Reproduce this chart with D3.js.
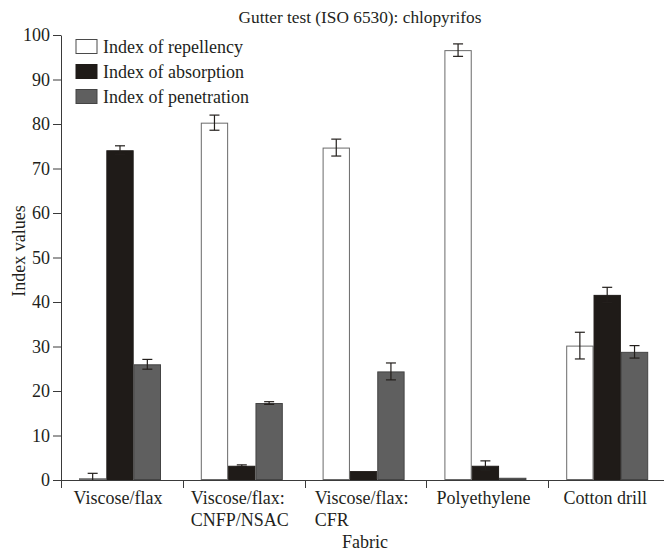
<!DOCTYPE html>
<html>
<head>
<meta charset="utf-8">
<script src="https://cdn.jsdelivr.net/npm/d3@7"></script>
<style>
  body { margin: 0; background: #fff; }
</style>
</head>
<body>
<div id="chart"></div>
<script>
// Data.
var fabrics = [
  ["Viscose/flax"],
  ["Viscose/flax:", "CNFP/NSAC"],
  ["Viscose/flax:", "CFR"],
  ["Polyethylene"],
  ["Cotton drill"]
];
var seriesNames = ["Index of repellency", "Index of absorption", "Index of penetration"];
var repellency = [0.4, 80.3, 74.7, 96.6, 30.2];
var repellencyErr = [1.1, 1.7, 1.9, 1.4, 3.0];
var absorption = [74.1, 3.2, 2.0, 3.2, 41.6];
var absorptionErr = [1.0, 0.2, 0.1, 1.1, 1.7];
var penetration = [26.0, 17.3, 24.4, 0.5, 28.8];
var penetrationErr = [1.1, 0.3, 1.9, 0.1, 1.4];
var yTicks = [0, 10, 20, 30, 40, 50, 60, 70, 80, 90, 100];

var width = 664, height = 556;
var fills = ["#ffffff", "#1f1b18", "#5f5f5f"];
var strokes = ["#6a6a6a", "#1f1b18", "#444444"];
var fontSize = "18px";
var serif = "'Liberation Serif', 'DejaVu Serif', serif";
var textColor = "#231f1c";

var svg = d3.select("#chart").append("svg")
  .attr("width", width)
  .attr("height", height)
  .attr("font-family", serif);

var values = [repellency, absorption, penetration];
var errors = [repellencyErr, absorptionErr, penetrationErr];

var rows = fabrics.map(function(f, i) {
  return {
    id: i,
    label: f,
    bars: seriesNames.map(function(s, j) {
      return { series: s, k: j, value: values[j][i], err: errors[j][i] };
    })
  };
});

var x0 = d3.scaleBand()
  .domain(d3.range(fabrics.length))
  .range([61, 670])
  .padding(0);

var x1 = d3.scaleBand()
  .domain(d3.range(seriesNames.length))
  .range([18, 100])
  .padding(0);

var y = d3.scaleLinear()
  .domain([0, 100])
  .range([480, 35]);

var axisColor = "#3a3a3a";

// bars
var group = svg.append("g").selectAll(".fabric")
  .data(rows)
  .enter()
    .append("g")
    .attr("class", "fabric")
    .attr("transform", d => "translate(" + x0(d.id) + ",0)");

group.selectAll("rect")
  .data(d => d.bars)
  .enter()
    .append("rect")
    .attr("x", d => x1(d.k) + 0.5)
    .attr("y", d => y(d.value) + 0.5)
    .attr("width", x1.bandwidth() - 1)
    .attr("height", d => Math.max(0, y(0) - y(d.value) - 1))
    .attr("fill", d => fills[d.k])
    .attr("stroke", d => strokes[d.k])
    .attr("stroke-width", 1);

// error bars
var capHalf = 5;
var err = group.selectAll(".err")
  .data(d => d.bars.filter(b => b.err > 0.15))
  .enter()
    .append("g")
    .attr("class", "err")
    .attr("stroke", textColor)
    .attr("stroke-width", 1.2);

err.append("line")
  .attr("x1", d => x1(d.k) + x1.bandwidth() / 2)
  .attr("x2", d => x1(d.k) + x1.bandwidth() / 2)
  .attr("y1", d => y(d.value + d.err))
  .attr("y2", d => y(Math.max(0, d.value - d.err)));

err.append("line")
  .attr("x1", d => x1(d.k) + x1.bandwidth() / 2 - capHalf)
  .attr("x2", d => x1(d.k) + x1.bandwidth() / 2 + capHalf)
  .attr("y1", d => y(d.value + d.err))
  .attr("y2", d => y(d.value + d.err));

err.filter(d => d.value - d.err > 0.3).append("line")
  .attr("x1", d => x1(d.k) + x1.bandwidth() / 2 - capHalf)
  .attr("x2", d => x1(d.k) + x1.bandwidth() / 2 + capHalf)
  .attr("y1", d => y(d.value - d.err))
  .attr("y2", d => y(d.value - d.err));

// y axis
var yAxis = svg.append("g")
  .attr("transform", "translate(61,0)")
  .call(d3.axisLeft(y).tickValues(yTicks).tickSize(8).tickPadding(3).tickSizeOuter(0));

yAxis.attr("font-family", serif).attr("font-size", fontSize);
yAxis.select(".domain").attr("stroke", axisColor);
yAxis.selectAll(".tick line").attr("stroke", axisColor);
yAxis.selectAll(".tick text").attr("fill", textColor);

// x axis line and ticks at band edges
var xAxis = svg.append("g");
xAxis.append("line")
  .attr("x1", 61).attr("x2", width)
  .attr("y1", y(0) + 0.5).attr("y2", y(0) + 0.5)
  .attr("stroke", axisColor);

xAxis.selectAll(".xtick")
  .data(d3.range(fabrics.length))
  .enter()
    .append("line")
    .attr("x1", d => Math.round(x0(d)) + 0.5)
    .attr("x2", d => Math.round(x0(d)) + 0.5)
    .attr("y1", y(0))
    .attr("y2", y(0) + 8)
    .attr("stroke", axisColor);

// category labels, lines left aligned, block centred on the bar group
var labels = xAxis.selectAll(".xlabel")
  .data(rows)
  .enter()
    .append("text")
    .attr("class", "xlabel")
    .attr("fill", textColor)
    .attr("font-size", fontSize);

labels.each(function(d) {
  var t = d3.select(this);
  d.label.forEach(function(line, i) {
    t.append("tspan").attr("y", 504 + i * 22).text(line);
  });
  var w = d3.max(t.selectAll("tspan").nodes(), n => n.getComputedTextLength());
  var cx = x0(d.id) + (x1.range()[0] + x1.range()[1]) / 2 - 2;
  t.selectAll("tspan").attr("x", cx - w / 2);
});

// axis titles
svg.append("text")
  .attr("x", 365)
  .attr("y", 548)
  .attr("text-anchor", "middle")
  .attr("fill", textColor)
  .attr("font-size", fontSize)
  .text("Fabric");

svg.append("text")
  .attr("transform", "translate(25,251) rotate(-90)")
  .attr("text-anchor", "middle")
  .attr("fill", textColor)
  .attr("font-size", fontSize)
  .text("Index values");

svg.append("text")
  .attr("x", 360)
  .attr("y", 23)
  .attr("text-anchor", "middle")
  .attr("fill", textColor)
  .attr("font-size", "17.3px")
  .text("Gutter test (ISO 6530): chlopyrifos");

// legend
var legend = svg.append("g").selectAll(".legend")
  .data(seriesNames)
  .enter()
    .append("g")
    .attr("class", "legend")
    .attr("transform", (d, i) => "translate(76," + (39.5 + i * 25) + ")");

legend.append("rect")
  .attr("width", 21)
  .attr("height", 14)
  .attr("fill", (d, i) => fills[i])
  .attr("stroke", (d, i) => i == 0 ? "#4a4a4a" : strokes[i]);

legend.append("text")
  .attr("x", 27)
  .attr("y", 13)
  .attr("fill", textColor)
  .attr("font-size", fontSize)
  .text(d => d);
</script>
</body>
</html>
